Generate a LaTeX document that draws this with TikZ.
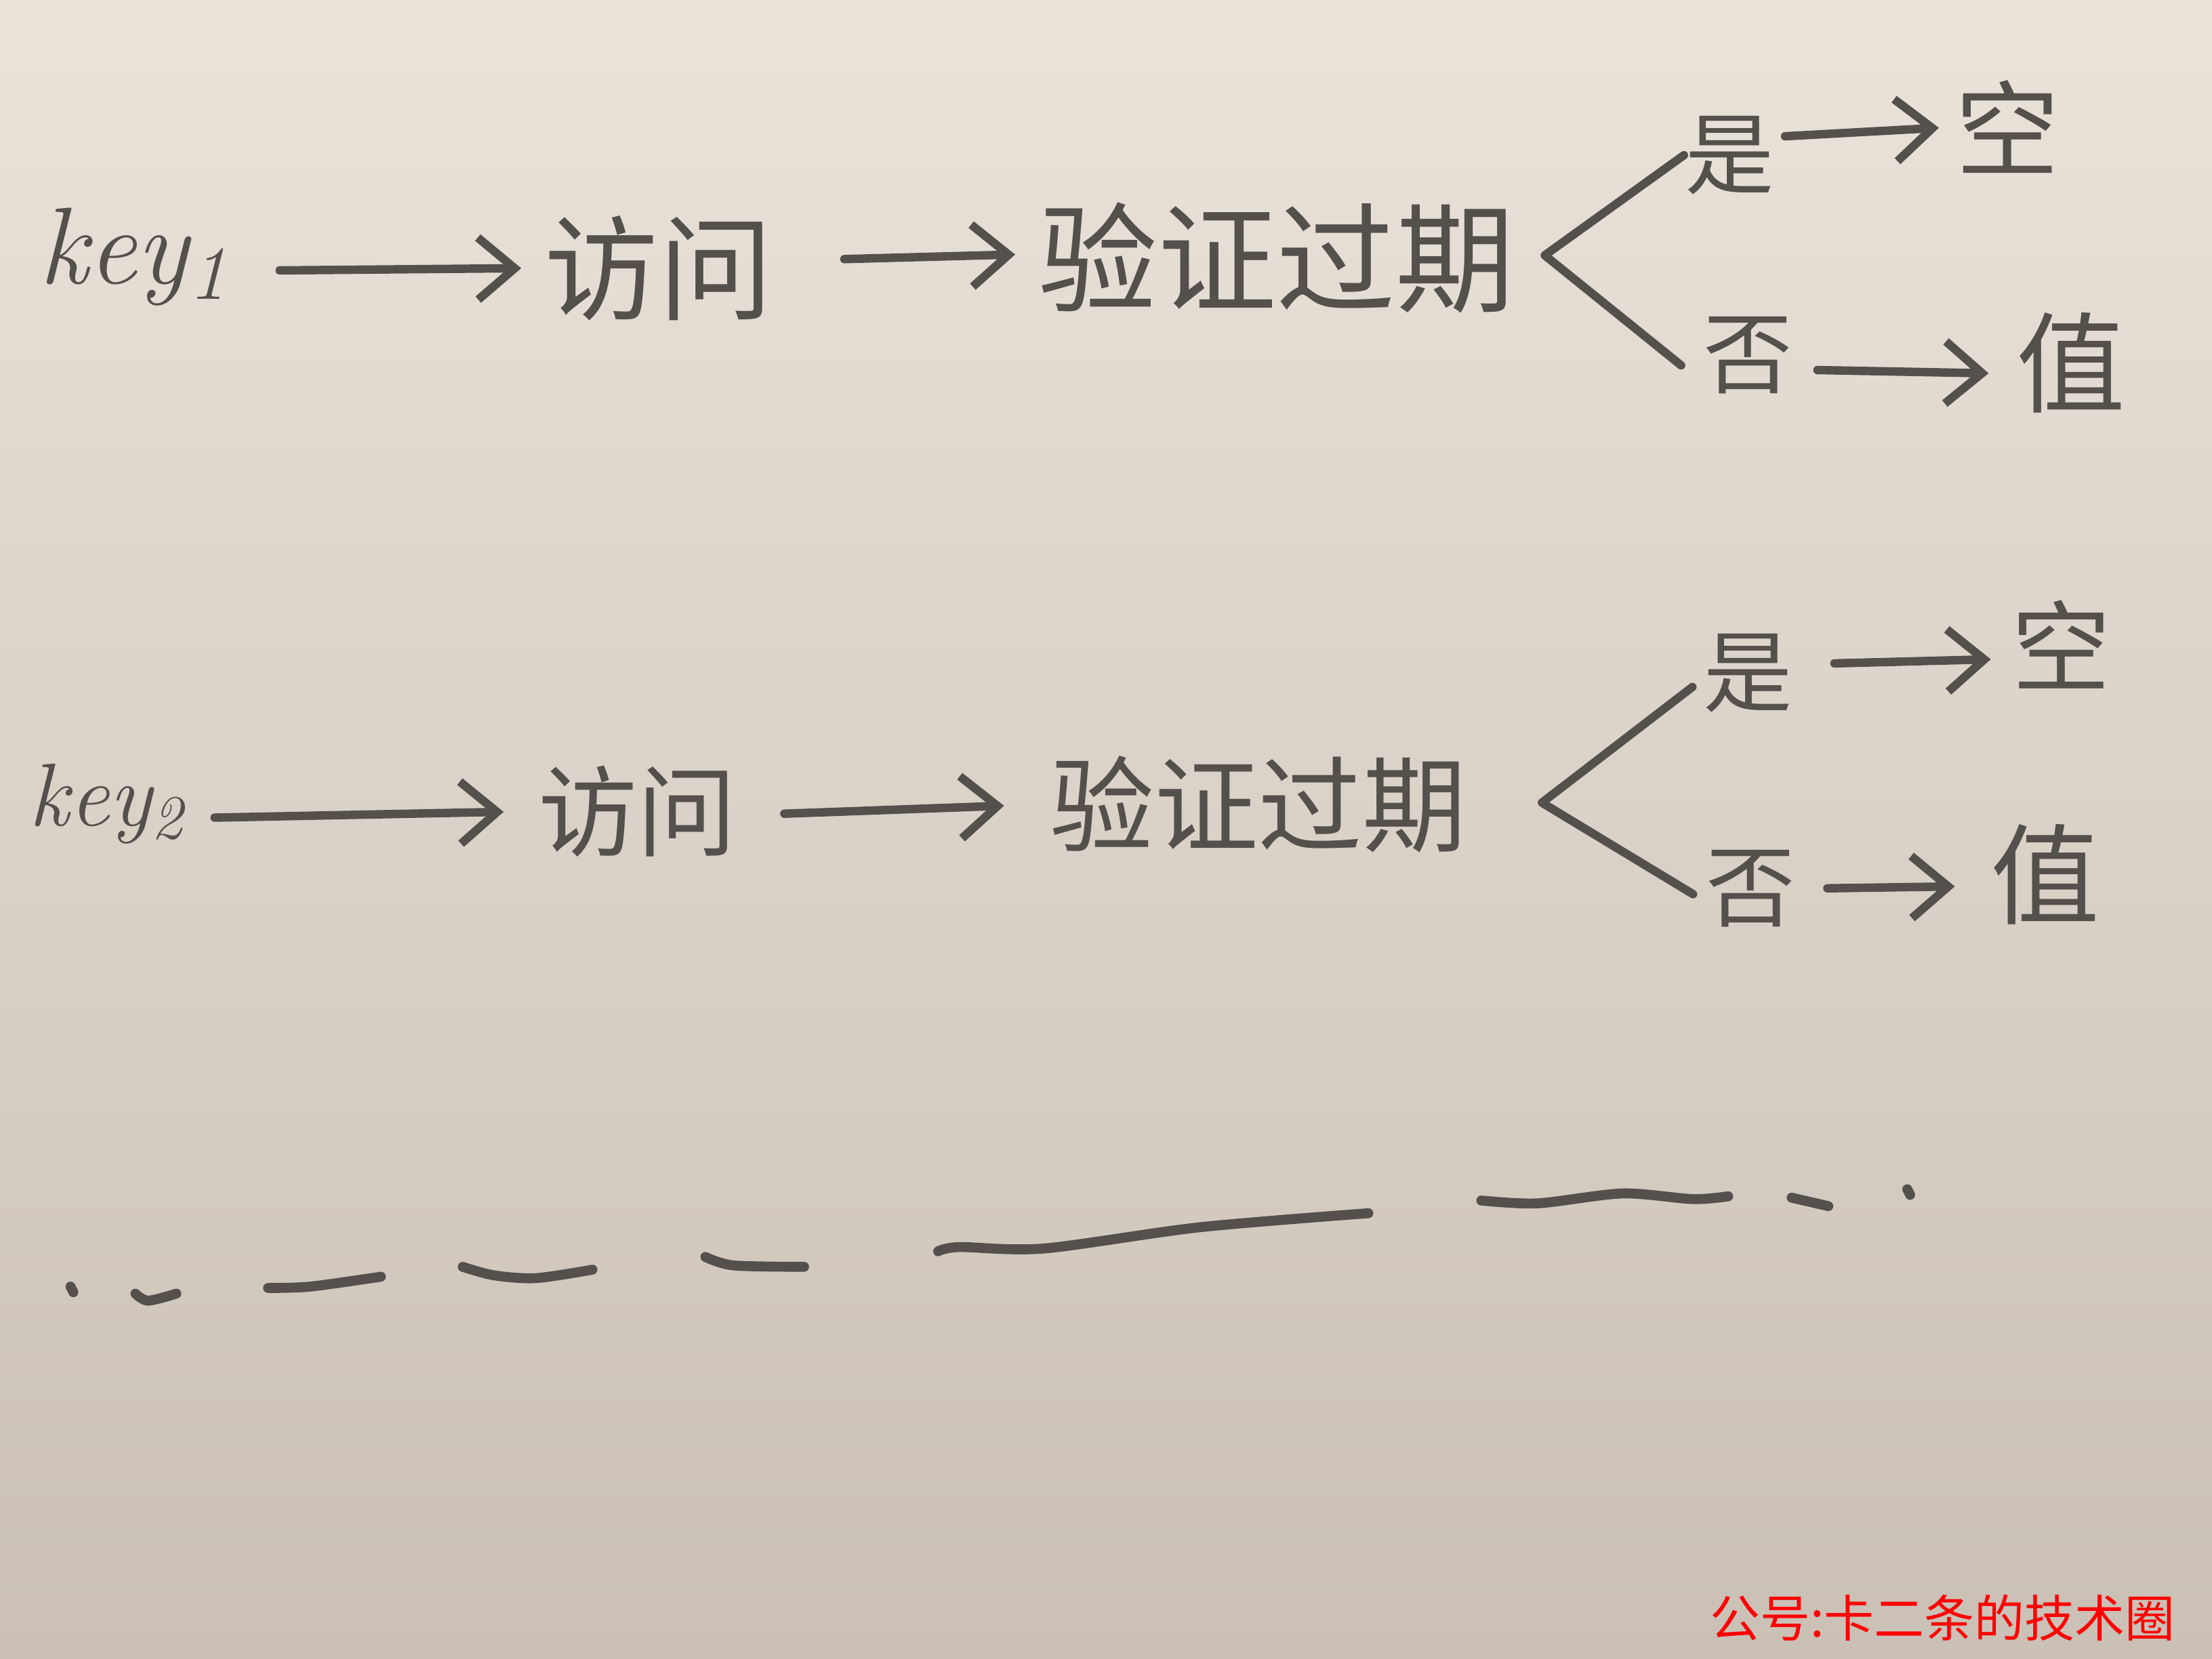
\documentclass[tikz,border=0pt]{standalone}
\usepackage{fontspec}
\newfontfamily\cjk{Noto Sans CJK SC}
\usetikzlibrary{arrows.meta}

\definecolor{ink}{RGB}{84,80,76}
\definecolor{boardtop}{RGB}{234,227,217}
\definecolor{boardmid}{RGB}{224,216,206}
\definecolor{boardbot}{RGB}{202,192,182}

\begin{document}
\begin{tikzpicture}[
  pen/.style={draw=ink,line width=1.7pt,line cap=round,line join=round},
  arr/.style={pen,-{Straight Barb[length=2.6mm,width=4.4mm]}},
  word/.style={font=\cjk\fontsize{#1}{#1}\selectfont,text=ink,inner sep=0pt},
  keyword/.style={font=\itshape\fontsize{#1}{#1}\selectfont,text=ink,inner sep=0pt}
]
  %Board
  \shade[top color=boardtop,middle color=boardmid,bottom color=boardbot] (0,0) rectangle (15.68,-11.76);
  \useasboundingbox (0,0) rectangle (15.68,-11.76);

  %Nodes, first key
  \node at (0.95,-1.82) [keyword=22] (key1) {key\textsubscript{1}};
  \node at (4.67,-1.90) [word=23] (visit1) {访问};
  \node at (9.05,-1.83) [word=24] (check1) {验证过期};
  \coordinate (fork1) at (10.95,-1.81);
  \node at (12.26,-1.10) [word=18] (yes1) {是};
  \node at (14.23,-0.90) [word=21] (empty1) {空};
  \node at (12.39,-2.52) [word=18] (no1) {否};
  \node at (14.68,-2.57) [word=22] (value1) {值};

  %Nodes, second key
  \node at (0.76,-5.70) [keyword=18] (key2) {key\textsubscript{2}};
  \node at (4.52,-5.75) [word=20] (visit2) {访问};
  \node at (8.92,-5.70) [word=21] (check2) {验证过期};
  \coordinate (fork2) at (10.93,-5.69);
  \node at (12.39,-4.77) [word=18] (yes2) {是};
  \node at (14.61,-4.57) [word=20] (empty2) {空};
  \node at (12.41,-6.30) [word=18] (no2) {否};
  \node at (14.50,-6.20) [word=22] (value2) {值};

  %Lines, first key
  \draw[arr,shorten <=3.5mm,shorten >=1.6mm] ([yshift=-1mm]key1.east) -- (visit1.west);
  \draw[arr,shorten <=5mm,shorten >=1.6mm] ([yshift=0.5mm]visit1.east) -- ([yshift=0.3mm]check1.west);
  \draw[pen] (yes1.west) -- (fork1) -- ([shift={(-1.5mm,-0.7mm)}]no1.west);
  \draw[arr,shorten <=0.7mm,shorten >=1.1mm] ([yshift=1.3mm]yes1.east) -- (empty1.west);
  \draw[arr,shorten <=1.7mm,shorten >=1.9mm] ([yshift=-1mm]no1.east) -- ([yshift=-0.8mm]value1.west);

  %Lines, second key
  \draw[arr,shorten <=2mm,shorten >=2.4mm] ([yshift=-1mm]key2.east) -- (visit2.west);
  \draw[arr,shorten <=3.3mm,shorten >=3.2mm] ([yshift=-0.3mm]visit2.east) -- (check2.west);
  \draw[pen,shorten >=1mm] ([shift={(-0.7mm,-1mm)}]yes2.west) -- (fork2) -- ([yshift=-0.9mm]no2.west);
  \draw[arr,shorten <=2.9mm,shorten >=1.4mm] ([yshift=0.6mm]yes2.east) -- ([yshift=-1mm]empty2.west);
  \draw[arr,shorten <=2.2mm,shorten >=2.5mm] (no2.east) -- ([yshift=-0.8mm]value2.west);

  %More keys
  \draw[pen,line width=2pt] (0.50,-9.12) -- (0.52,-9.16);
  \draw[pen,line width=2pt] plot[smooth] coordinates {(0.96,-9.17) (1.05,-9.22) (1.25,-9.17)};
  \draw[pen,line width=2pt] plot[smooth] coordinates {(1.90,-9.13) (2.20,-9.12) (2.70,-9.05)};
  \draw[pen,line width=2pt] plot[smooth] coordinates {(3.28,-8.98) (3.50,-9.04) (3.80,-9.06) (4.20,-9.00)};
  \draw[pen,line width=2pt] plot[smooth] coordinates {(5.00,-8.91) (5.20,-8.97) (5.70,-8.98)};
  \draw[pen,line width=2pt] plot[smooth] coordinates {(6.65,-8.87) (6.80,-8.84) (7.40,-8.85) (8.50,-8.70) (9.70,-8.60)};
  \draw[pen,line width=2pt] plot[smooth] coordinates {(10.50,-8.51) (10.90,-8.53) (11.50,-8.46) (12.00,-8.50) (12.25,-8.48)};
  \draw[pen,line width=2pt] (12.70,-8.49) -- (12.96,-8.55);
  \draw[pen,line width=2pt] (13.52,-8.43) -- (13.54,-8.47);

  %Watermark
  \node at (13.77,-11.47) [font=\cjk\fontsize{10.1}{10.1}\selectfont,text=red,inner sep=0pt] (mark) {公号:卡二条的技术圈};
\end{tikzpicture}
\end{document}
